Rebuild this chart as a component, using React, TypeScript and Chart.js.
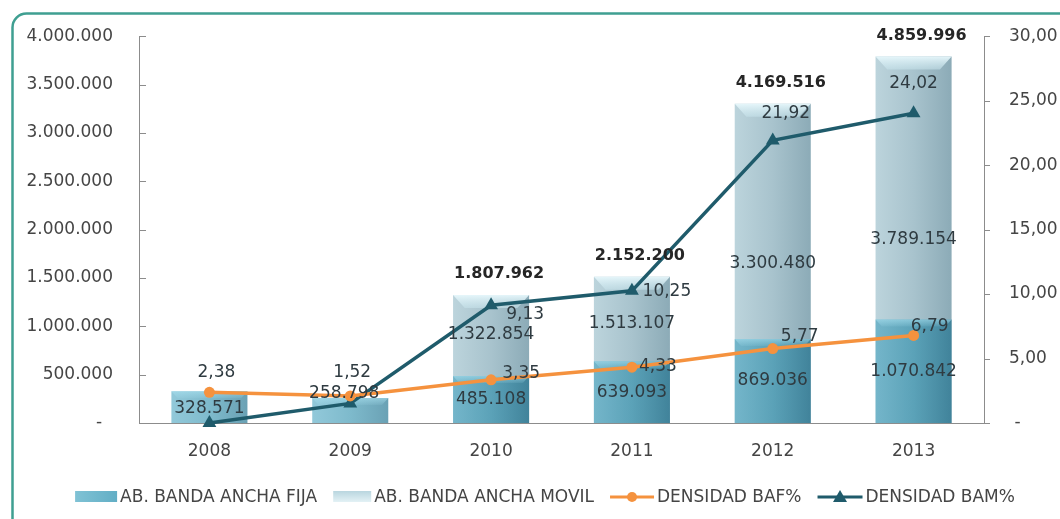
import React, { useEffect, useRef } from 'react';
import { Chart, registerables } from 'chart.js';

Chart.register(...registerables);

// ---------------- data ----------------
const years = ['2008', '2009', '2010', '2011', '2012', '2013'];
const fijaValues = [328571, 258798, 485108, 639093, 869036, 1070842];
const movilValues: (number | null)[] = [null, null, 1322854, 1513107, 3300480, 3789154];
const bafValues = [2.38, 2.1, 3.35, 4.33, 5.77, 6.79];
const bamValues = [0, 1.52, 9.13, 10.25, 21.92, 24.02];
const seriesNames = ['AB. BANDA ANCHA FIJA', 'AB. BANDA ANCHA MOVIL', 'DENSIDAD BAF%', 'DENSIDAD BAM%'];
const bafShowLabel = [true, false, true, true, true, true];
const bamShowLabel = [false, true, true, true, true, true];
const leftMax = 4000000;
const leftStep = 500000;
const rightMax = 30;
const rightStep = 5;

// ---------------- styling ----------------
const FONT = "'DejaVu Sans', sans-serif";
const TEXT = '#454545';
const LABEL = '#2f3b41';
const AXIS = '#8c8c8c';
const ORANGE = '#F5923E';
const DARK = '#1F5B6B';
const CAT_PCT = 0.54;

// label shifts in px (dx, dy), styling only
const FIJA_SHIFT = [[0, 1], [-6, -17], [0, 0], [0, 0], [0, 0], [0, 0]];
const MOVIL_SHIFT = [[0, 0], [0, 0], [0, -24], [0, -26], [0, 0], [0, 0]];
const BAF_SHIFT = [[7, -20], [0, 0], [30, -6], [26, -1], [27, -12], [16, -9]];
const BAM_SHIFT = [[0, 0], [2, -31], [34, 9], [35, 1], [13, -27], [0, -30]];
const TOTAL_SHIFT = [8, -21];

const fmtInt = (n: number) => String(Math.round(n)).replace(/\B(?=(\d{3})+(?!\d))/g, '.');
const fmtDec = (n: number) => n.toFixed(2).replace('.', ',');

const barGradient = (stops: [number, string][]) => (c: any) => {
  const chart = c.chart;
  const xs = chart.scales && chart.scales.x;
  if (!xs || c.type !== 'data' || !isFinite(xs.width) || xs.width <= 0) return stops[1][1];
  const cx = xs.getPixelForValue(c.dataIndex);
  const hw = (xs.width / years.length) * CAT_PCT / 2;
  const g = chart.ctx.createLinearGradient(cx - hw, 0, cx + hw, 0);
  stops.forEach(([o, col]) => g.addColorStop(o, col));
  return g;
};

const decorPlugin = {
  id: 'decor',
  beforeDraw(chart: any) {
    const { ctx } = chart;
    ctx.save();
    ctx.fillStyle = '#ffffff';
    ctx.fillRect(0, 0, chart.width, chart.height);
    ctx.strokeStyle = '#3f9f91';
    ctx.lineWidth = 2.5;
    ctx.beginPath();
    ctx.roundRect(12.5, 13.5, chart.width + 60, chart.height + 60, 14);
    ctx.stroke();
    ctx.restore();
  },
  afterDatasetDraw(chart: any, args: any) {
    const meta = args.meta;
    if (meta.type !== 'bar') return;
    const ctx = chart.ctx;
    const data = chart.data.datasets[args.index].data;
    ctx.save();
    meta.data.forEach((el: any, i: number) => {
      const raw = data[i];
      if (raw == null || raw <= 0) return;
      const { x, y, width } = el.getProps(['x', 'y', 'width'], true);
      const l = x - width / 2;
      const r = x + width / 2;
      const isMovil = args.index === 1;
      const h = isMovil ? 13 : 7;
      const g = ctx.createLinearGradient(0, y, 0, y + h);
      if (isMovil) {
        g.addColorStop(0, 'rgba(232,248,252,0.95)');
        g.addColorStop(1, 'rgba(200,228,236,0.55)');
      } else {
        g.addColorStop(0, 'rgba(170,225,240,0.6)');
        g.addColorStop(1, 'rgba(170,225,240,0.1)');
      }
      ctx.fillStyle = g;
      ctx.beginPath();
      ctx.moveTo(l, y);
      ctx.lineTo(r, y);
      ctx.lineTo(r - h * 0.9, y + h);
      ctx.lineTo(l + h * 0.9, y + h);
      ctx.closePath();
      ctx.fill();
    });
    ctx.restore();
  },
  afterDatasetsDraw(chart: any) {
    const ctx = chart.ctx;
    ctx.save();
    ctx.textAlign = 'center';
    ctx.textBaseline = 'middle';
    ctx.font = `17px ${FONT}`;
    ctx.fillStyle = LABEL;
    const mFija = chart.getDatasetMeta(0);
    const mMovil = chart.getDatasetMeta(1);
    const mBaf = chart.getDatasetMeta(2);
    const mBam = chart.getDatasetMeta(3);
    mFija.data.forEach((el: any, i: number) => {
      const p = el.getProps(['x', 'y', 'base'], true);
      ctx.fillText(fmtInt(fijaValues[i]), p.x + FIJA_SHIFT[i][0], (p.y + p.base) / 2 + FIJA_SHIFT[i][1]);
    });
    mMovil.data.forEach((el: any, i: number) => {
      const v = movilValues[i];
      if (v == null) return;
      const p = el.getProps(['x', 'y', 'base'], true);
      ctx.fillText(fmtInt(v), p.x + MOVIL_SHIFT[i][0], (p.y + p.base) / 2 + MOVIL_SHIFT[i][1]);
    });
    mBaf.data.forEach((el: any, i: number) => {
      if (!bafShowLabel[i]) return;
      ctx.fillText(fmtDec(bafValues[i]), el.x + BAF_SHIFT[i][0], el.y + BAF_SHIFT[i][1]);
    });
    mBam.data.forEach((el: any, i: number) => {
      if (!bamShowLabel[i]) return;
      ctx.fillText(fmtDec(bamValues[i]), el.x + BAM_SHIFT[i][0], el.y + BAM_SHIFT[i][1]);
    });
    ctx.font = `bold 16px ${FONT}`;
    ctx.fillStyle = '#262626';
    mMovil.data.forEach((el: any, i: number) => {
      const v = movilValues[i];
      if (v == null) return;
      const p = el.getProps(['x', 'y'], true);
      ctx.fillText(fmtInt(v + fijaValues[i]), p.x + TOTAL_SHIFT[0], p.y + TOTAL_SHIFT[1]);
    });
    ctx.restore();
  },
  afterDraw(chart: any) {
    const ctx = chart.ctx;
    const area = chart.chartArea;
    ctx.save();
    ctx.strokeStyle = AXIS;
    ctx.lineWidth = 1;
    const yl = chart.scales.y;
    yl.ticks.forEach((t: any) => {
      const py = Math.round(yl.getPixelForValue(t.value)) + 0.5;
      ctx.beginPath();
      ctx.moveTo(area.left, py);
      ctx.lineTo(area.left + 7, py);
      ctx.stroke();
    });
    const yr = chart.scales.y2;
    yr.ticks.forEach((t: any) => {
      const py = Math.round(yr.getPixelForValue(t.value)) + 0.5;
      ctx.beginPath();
      ctx.moveTo(area.right, py);
      ctx.lineTo(area.right + 6, py);
      ctx.stroke();
    });

    // legend
    ctx.font = `17px ${FONT}`;
    ctx.textBaseline = 'middle';
    ctx.textAlign = 'left';
    const cy = 497;
    const markerW = [42, 38, 44, 45];
    const gapText = 3;
    const gapItem = 16;
    const widths = seriesNames.map((s, i) => markerW[i] + gapText + ctx.measureText(s).width);
    const total = widths.reduce((a, b) => a + b, 0) + gapItem * (seriesNames.length - 1);
    let x = 545 - total / 2;
    seriesNames.forEach((name, i) => {
      const w = markerW[i];
      if (i === 0) {
        const g = ctx.createLinearGradient(x, 0, x + w, 0);
        g.addColorStop(0, '#80c2d5');
        g.addColorStop(1, '#62aec5');
        ctx.fillStyle = g;
        ctx.fillRect(x, cy - 6, w, 11);
      } else if (i === 1) {
        const g = ctx.createLinearGradient(0, cy - 6, 0, cy + 5);
        g.addColorStop(0, '#b9d6df');
        g.addColorStop(1, '#e3f1f5');
        ctx.fillStyle = g;
        ctx.fillRect(x, cy - 6, w, 11);
      } else {
        const col = i === 2 ? ORANGE : DARK;
        ctx.strokeStyle = col;
        ctx.lineWidth = 3;
        ctx.beginPath();
        ctx.moveTo(x, cy);
        ctx.lineTo(x + w, cy);
        ctx.stroke();
        ctx.fillStyle = col;
        ctx.beginPath();
        if (i === 2) {
          ctx.arc(x + w / 2, cy, 5, 0, Math.PI * 2);
        } else {
          ctx.moveTo(x + w / 2, cy - 7);
          ctx.lineTo(x + w / 2 + 7, cy + 5);
          ctx.lineTo(x + w / 2 - 7, cy + 5);
          ctx.closePath();
        }
        ctx.fill();
      }
      ctx.fillStyle = TEXT;
      ctx.fillText(name, x + w + gapText, cy + 1);
      x += widths[i] + gapItem;
    });
    ctx.restore();
  },
};

export default function App() {
  const canvasRef = useRef<HTMLCanvasElement | null>(null);

  useEffect(() => {
    const canvas = canvasRef.current;
    if (!canvas) return;
    const chart = new Chart(canvas, {
      type: 'bar',
      data: {
        labels: years,
        datasets: [
          {
            type: 'bar',
            label: seriesNames[0],
            data: fijaValues,
            yAxisID: 'y',
            order: 2,
            grouped: false,
            barPercentage: 1,
            categoryPercentage: CAT_PCT,
            backgroundColor: barGradient([
              [0, 'rgba(60,158,188,0.56)'],
              [0.5, 'rgba(40,140,170,0.6)'],
              [1, 'rgba(22,108,138,0.64)'],
            ]),
            borderWidth: 0,
          } as any,
          {
            type: 'bar',
            label: seriesNames[1],
            data: movilValues,
            yAxisID: 'y',
            order: 3,
            grouped: false,
            barPercentage: 1,
            categoryPercentage: CAT_PCT,
            backgroundColor: barGradient([
              [0, '#bcd4dc'],
              [0.5, '#a8c3cd'],
              [1, '#8cabb7'],
            ]),
            borderWidth: 0,
          } as any,
          {
            type: 'line',
            label: seriesNames[2],
            data: bafValues,
            yAxisID: 'y2',
            order: 0,
            borderColor: ORANGE,
            backgroundColor: ORANGE,
            borderWidth: 3.5,
            pointStyle: 'circle',
            pointRadius: 5.5,
            pointBorderWidth: 0,
            tension: 0,
            clip: false,
          } as any,
          {
            type: 'line',
            label: seriesNames[3],
            data: bamValues,
            yAxisID: 'y2',
            order: 1,
            borderColor: DARK,
            backgroundColor: DARK,
            borderWidth: 3.5,
            pointStyle: 'triangle',
            pointRadius: 8,
            pointBorderWidth: 0,
            tension: 0,
            clip: false,
          } as any,
        ],
      },
      options: {
        animation: false,
        responsive: true,
        maintainAspectRatio: false,
        layout: { padding: { top: 32, left: 0, right: 0, bottom: 0 } },
        plugins: {
          legend: { display: false },
          tooltip: { enabled: false },
          title: { display: false },
        },
        scales: {
          x: {
            type: 'category',
            offset: true,
            grid: { display: false, drawTicks: false },
            border: { display: true, color: AXIS, width: 1 },
            ticks: { color: TEXT, font: { family: FONT, size: 17 }, padding: 18, maxRotation: 0 },
            afterFit: (s: any) => { s.height = 96; },
          },
          y: {
            type: 'linear',
            position: 'left',
            min: 0,
            max: leftMax,
            grid: { display: false, drawTicks: false },
            border: { display: true, color: AXIS, width: 1 },
            ticks: {
              stepSize: leftStep,
              color: TEXT,
              font: { family: FONT, size: 17 },
              padding: 26,
              callback: (v: any) => (Number(v) === 0 ? '-  ' : fmtInt(Number(v))),
            },
            afterFit: (s: any) => { s.width = 139; },
          },
          y2: {
            type: 'linear',
            position: 'right',
            min: 0,
            max: rightMax,
            grid: { display: false, drawTicks: false },
            border: { display: true, color: AXIS, width: 1 },
            ticks: {
              stepSize: rightStep,
              color: TEXT,
              font: { family: FONT, size: 17 },
              padding: 25,
              callback: (v: any) => (Number(v) === 0 ? ' -' : fmtDec(Number(v))),
            },
            afterFit: (s: any) => { s.width = 76; },
          },
        },
      } as any,
      plugins: [decorPlugin as any],
    });
    return () => chart.destroy();
  }, []);

  return (
    <div style={{ position: 'fixed', left: 0, top: 0, width: 1060, height: 519, background: '#fff' }}>
      <canvas ref={canvasRef} />
    </div>
  );
}
